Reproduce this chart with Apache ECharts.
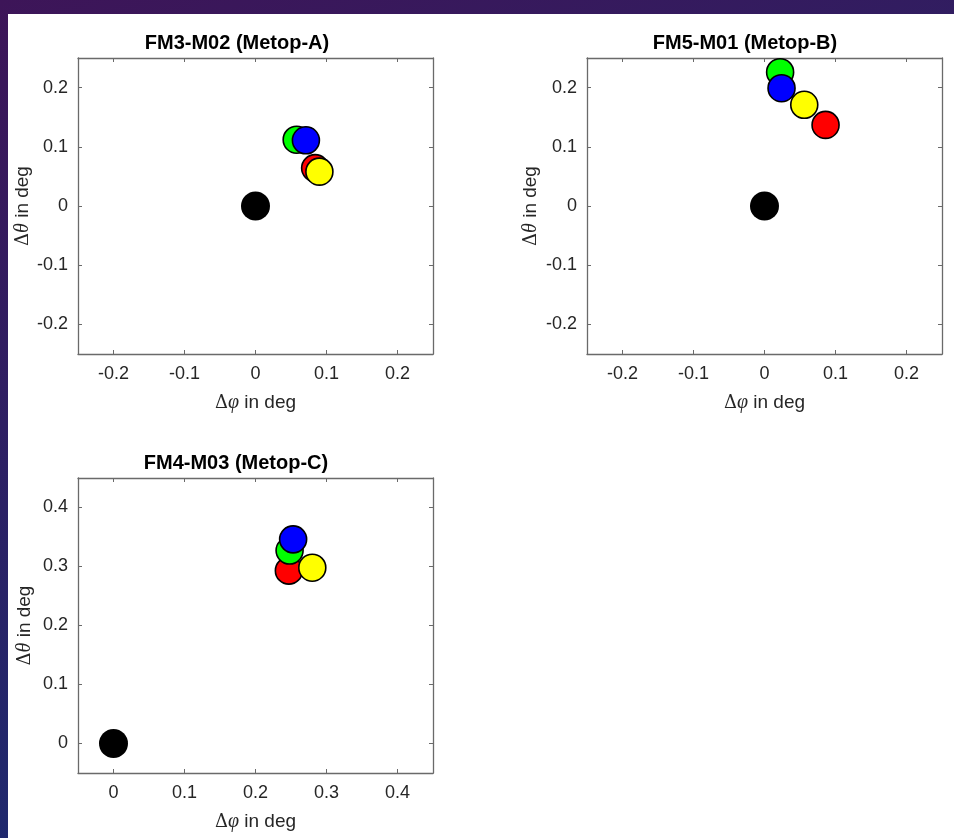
<!DOCTYPE html>
<html>
<head>
<meta charset="utf-8">
<script src="https://cdn.jsdelivr.net/npm/echarts@6/dist/echarts.min.js"></script>
<style>
html,body{margin:0;padding:0;width:954px;height:838px;overflow:hidden;}
#chart{width:954px;height:838px;}
</style>
</head>
<body>
<div id="chart"></div>
<script>
// ---- data ----
const panelTitles = ['FM3-M02 (Metop-A)', 'FM5-M01 (Metop-B)', 'FM4-M03 (Metop-C)'];
// order of points: reference (black), red, green, blue, yellow
const pointNames = ['ref', 'red', 'green', 'blue', 'yellow'];
const dPhiA   = [0, 0.084, 0.058, 0.071, 0.090];
const dThetaA = [0, 0.064, 0.112, 0.111, 0.058];
const dPhiB   = [0, 0.086, 0.022, 0.024, 0.056];
const dThetaB = [0, 0.137, 0.226, 0.199, 0.171];
const dPhiC   = [0, 0.247, 0.248, 0.253, 0.280];
const dThetaC = [0, 0.293, 0.327, 0.346, 0.298];
const ticksAB = [-0.2, -0.1, 0, 0.1, 0.2];
const ticksC  = [0, 0.1, 0.2, 0.3, 0.4];

const panels = [
  {title: panelTitles[0], x: dPhiA, y: dThetaA, ticks: ticksAB, min: -0.25, max: 0.25, grid: {left: 78, top: 58, width: 355, height: 296}, tx: 237, ty: 43, yGap: 43},
  {title: panelTitles[1], x: dPhiB, y: dThetaB, ticks: ticksAB, min: -0.25, max: 0.25, grid: {left: 587, top: 58, width: 355, height: 296}, tx: 745, ty: 43, yGap: 46},
  {title: panelTitles[2], x: dPhiC, y: dThetaC, ticks: ticksC, min: -0.05, max: 0.45, grid: {left: 78, top: 478, width: 355, height: 295}, tx: 236, ty: 463, yGap: 43}
];

const colors = ['#000000', '#ff0000', '#00ff00', '#0000ff', '#ffff00'];
const axisColor = '#6a6a6a';
const labelColor = '#262626';
const FONT = '"Liberation Sans", Arial, Helvetica, sans-serif';

const grids = [], xAxes = [], yAxes = [], series = [], graphics = [];

graphics.push({type: 'rect', shape: {x: 8, y: 14, width: 946, height: 824}, style: {fill: '#ffffff'}, z: -10, silent: true});

const nameRich = {
  g: {fontFamily: '"DejaVu Serif", "Liberation Serif", serif', fontSize: 18, color: labelColor},
  i: {fontFamily: '"Liberation Serif", "DejaVu Serif", serif', fontStyle: 'italic', fontSize: 20, color: labelColor},
  t: {fontFamily: FONT, fontSize: 19, color: labelColor}
};

panels.forEach((p, k) => {
  grids.push(Object.assign({containLabel: false, show: false}, p.grid));
  const baseAxis = {
    min: p.min, max: p.max, gridIndex: k, type: 'value',
    axisLine: {show: true, onZero: false, lineStyle: {color: axisColor, width: 1.3}},
    axisTick: {show: true, inside: true, length: 4, customValues: p.ticks, lineStyle: {color: axisColor, width: 1}},
    splitLine: {show: false}
  };
  xAxes.push(Object.assign({}, baseAxis, {
    position: 'bottom',
    axisLabel: {show: true, customValues: p.ticks, margin: 11, color: labelColor, fontSize: 18, fontFamily: FONT,
      formatter: v => (Math.round(v * 10) / 10).toString()},
    name: '{g|Δ}{i|φ}{t| in deg}', nameLocation: 'middle', nameGap: 39,
    nameTextStyle: {rich: nameRich}
  }));
  xAxes.push(Object.assign({}, baseAxis, {position: 'top', axisLabel: {show: false}}));
  yAxes.push(Object.assign({}, baseAxis, {
    position: 'left',
    axisLabel: {show: true, customValues: p.ticks, margin: 10, color: labelColor, fontSize: 18, fontFamily: FONT,
      formatter: v => (Math.round(v * 10) / 10).toString()},
    name: '{g|Δ}{i|θ}{t| in deg}', nameLocation: 'middle', nameGap: p.yGap,
    nameTextStyle: {rich: nameRich}
  }));
  yAxes.push(Object.assign({}, baseAxis, {position: 'right', axisLabel: {show: false}}));

  pointNames.forEach((nm, j) => {
    series.push({
      type: 'scatter', name: p.title + ' ' + nm,
      xAxisIndex: 2 * k, yAxisIndex: 2 * k,
      data: [[p.x[j], p.y[j]]],
      symbol: 'circle',
      symbolSize: j === 0 ? 29 : 27,
      itemStyle: {color: colors[j], borderColor: '#000', borderWidth: j === 0 ? 0 : 1.6, opacity: 1},
      z: 2 + j,
      silent: true
    });
  });

  graphics.push({type: 'text', x: p.tx, y: p.ty, style: {text: p.title, fontFamily: FONT, fontWeight: 'bold', fontSize: 20, fill: '#000', align: 'center', verticalAlign: 'middle'}, z: 10});
});

const chart = echarts.init(document.getElementById('chart'), null, {renderer: 'canvas'});
chart.setOption({
  animation: false,
  backgroundColor: {type: 'linear', x: 0, y: 0, x2: 0.3, y2: 1, colorStops: [{offset: 0, color: '#3d1558'}, {offset: 1, color: '#1c2b70'}]},
  grid: grids, xAxis: xAxes, yAxis: yAxes, series: series, graphic: graphics
});
</script>
</body>
</html>
